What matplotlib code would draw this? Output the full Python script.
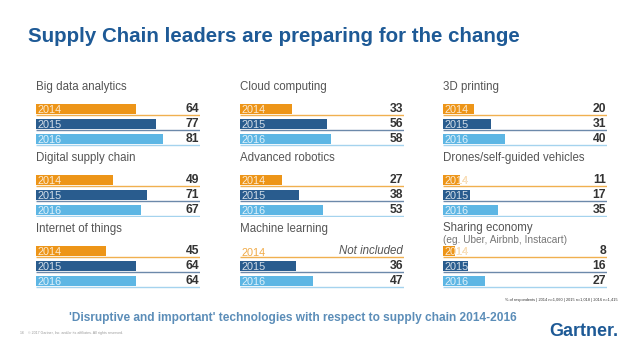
import matplotlib
matplotlib.use("Agg")
import matplotlib.pyplot as plt

plt.rcParams['font.family'] = ['Liberation Sans', 'DejaVu Sans']

# data (% of respondents)
topics = ["Big data analytics", "Cloud computing", "3D printing",
          "Digital supply chain", "Advanced robotics", "Drones/self-guided vehicles",
          "Internet of things", "Machine learning", "Sharing economy"]
years = ["2014", "2015", "2016"]
v2014 = [64, 33, 20, 49, 27, 11, 45, None, 8]
v2015 = [77, 56, 31, 71, 38, 17, 64, 36, 16]
v2016 = [81, 58, 40, 67, 53, 35, 64, 47, 27]

colors = ["#ED9518", "#295C8E", "#5DB6E4"]
lines = ["#F0B050", "#6C89AA", "#A5D3EE"]

W, H = 638, 359
fig = plt.figure(figsize=(W / 100, H / 100), dpi=100)
fig.patch.set_facecolor("white")

fig.text(28 / W, 1 - 37 / H, "Supply Chain leaders are preparing for the change",
         fontsize=14.8, fontweight="bold", color="#1E5A96", va="center", ha="left")

col_left = [36, 240, 443]
row_top = [101.5, 172.5, 243.5]
aw, ah = 164, 45

for i, name in enumerate(topics):
    r, c = divmod(i, 3)
    ax = fig.add_axes([col_left[c] / W, 1 - (row_top[r] + ah) / H, aw / W, ah / H])
    ax.set_xlim(0, 105)
    ax.set_ylim(2.5, -0.5)
    ax.axis("off")
    vals = [v2014[i], v2015[i], v2016[i]]
    for j, v in enumerate(vals):
        ax.plot([0, 105], [j + 0.37, j + 0.37], color=lines[j], lw=1.0, zorder=1,
                solid_capstyle="butt")
        if v is None:
            ax.text(0.8, j + 0.12, years[j], color=colors[j], fontsize=7.8,
                    va="center", ha="left", alpha=0.8, zorder=1)
            ax.text(104.5, j, "Not included", color="#555555", fontsize=8.3,
                    style="italic", va="center", ha="right")
            continue
        ax.text(0.8, j + 0.05, years[j], color=colors[j], fontsize=7.8,
                va="center", ha="left", zorder=1)
        bar = ax.barh(j, v, height=0.72, color=colors[j], zorder=2)[0]
        t = ax.text(0.8, j + 0.05, years[j], color="white", fontsize=7.8,
                    va="center", ha="left", alpha=0.8, zorder=3)
        t.set_clip_path(bar)
        ax.text(104.5, j, str(v), color="#333333", fontsize=8.7, fontweight="bold",
                va="center", ha="right")
    if name == "Sharing economy":
        ax.text(0, -1.5, name, color="#555555", fontsize=8.3, va="center",
                ha="left", clip_on=False)
        ax.text(0, -0.72, "(eg. Uber, Airbnb, Instacart)", color="#777777",
                fontsize=7.3, va="center", ha="left", clip_on=False)
    else:
        ax.text(0, -1.45, name, color="#555555", fontsize=8.3, va="center",
                ha="left", clip_on=False)

fig.text(618 / W, 1 - 300 / H,
         "% of respondents | 2014 n=1,060 | 2015 n=1,018 | 2016 n=1,415",
         fontsize=2.8, color="#333333", ha="right", va="center")
fig.text(293 / W, 1 - 318 / H,
         "'Disruptive and important' technologies with respect to supply chain 2014-2016",
         fontsize=8.6, fontweight="bold", color="#5B8DB8", ha="center", va="center")
fig.text(618 / W, 1 - 331 / H, "Gartner.", fontsize=13, fontweight="bold",
         color="#1E5A96", ha="right", va="center")
fig.text(20 / W, 1 - 333 / H,
         "16    © 2017 Gartner, Inc. and/or its affiliates. All rights reserved.",
         fontsize=2.6, color="#999999", ha="left", va="center")

fig.savefig("out.png", dpi=100)
